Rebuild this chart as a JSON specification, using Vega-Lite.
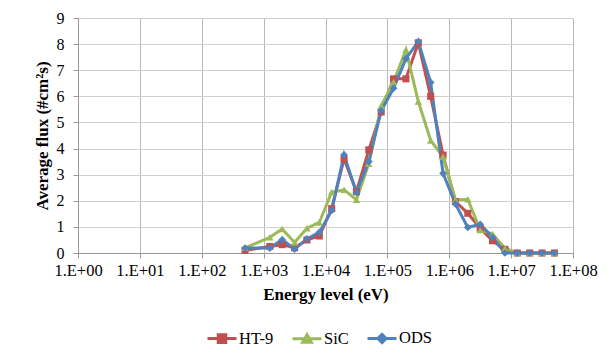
{
  "$schema": "https://vega.github.io/schema/vega-lite/v6.json",
  "width": 495,
  "height": 235,
  "autosize": {"type": "none"},
  "padding": {"left": 78, "top": 18, "right": 41, "bottom": 106},
  "background": "white",
  "config": {
    "view": {"stroke": null},
    "font": "Liberation Serif",
    "axis": {"labelFont": "Liberation Serif", "titleFont": "Liberation Serif", "labelColor": "#000", "titleColor": "#000"},
    "legend": {"labelFont": "Liberation Serif", "labelColor": "#000"}
  },
  "data": {
    "values": [
      {"E": 501, "s": "HT-9", "f": 0.1},
      {"E": 1259, "s": "HT-9", "f": 0.25},
      {"E": 1995, "s": "HT-9", "f": 0.32},
      {"E": 3162, "s": "HT-9", "f": 0.2},
      {"E": 5012, "s": "HT-9", "f": 0.5},
      {"E": 7943, "s": "HT-9", "f": 0.65},
      {"E": 12589, "s": "HT-9", "f": 1.7},
      {"E": 19953, "s": "HT-9", "f": 3.6},
      {"E": 31623, "s": "HT-9", "f": 2.35},
      {"E": 50119, "s": "HT-9", "f": 3.95},
      {"E": 79433, "s": "HT-9", "f": 5.4},
      {"E": 125893, "s": "HT-9", "f": 6.67},
      {"E": 199526, "s": "HT-9", "f": 6.67},
      {"E": 316228, "s": "HT-9", "f": 8.05},
      {"E": 501187, "s": "HT-9", "f": 6.0},
      {"E": 794328, "s": "HT-9", "f": 3.75},
      {"E": 1258925, "s": "HT-9", "f": 1.97},
      {"E": 1995262, "s": "HT-9", "f": 1.52},
      {"E": 3162278, "s": "HT-9", "f": 0.95},
      {"E": 5011872, "s": "HT-9", "f": 0.47},
      {"E": 7943282, "s": "HT-9", "f": 0.14},
      {"E": 12589254, "s": "HT-9", "f": 0},
      {"E": 19952623, "s": "HT-9", "f": 0},
      {"E": 31622777, "s": "HT-9", "f": 0},
      {"E": 50118723, "s": "HT-9", "f": 0},
      {"E": 501, "s": "SiC", "f": 0.2},
      {"E": 1259, "s": "SiC", "f": 0.6},
      {"E": 1995, "s": "SiC", "f": 0.92},
      {"E": 3162, "s": "SiC", "f": 0.4},
      {"E": 5012, "s": "SiC", "f": 0.95},
      {"E": 7943, "s": "SiC", "f": 1.17},
      {"E": 12589, "s": "SiC", "f": 2.33},
      {"E": 19953, "s": "SiC", "f": 2.42},
      {"E": 31623, "s": "SiC", "f": 2.04},
      {"E": 50119, "s": "SiC", "f": 3.42},
      {"E": 79433, "s": "SiC", "f": 5.64},
      {"E": 125893, "s": "SiC", "f": 6.55},
      {"E": 199526, "s": "SiC", "f": 7.78},
      {"E": 316228, "s": "SiC", "f": 5.8},
      {"E": 501187, "s": "SiC", "f": 4.31},
      {"E": 794328, "s": "SiC", "f": 3.69},
      {"E": 1258925, "s": "SiC", "f": 2.03},
      {"E": 1995262, "s": "SiC", "f": 2.06},
      {"E": 3162278, "s": "SiC", "f": 0.88},
      {"E": 5011872, "s": "SiC", "f": 0.73},
      {"E": 7943282, "s": "SiC", "f": 0.18},
      {"E": 12589254, "s": "SiC", "f": 0},
      {"E": 19952623, "s": "SiC", "f": 0},
      {"E": 31622777, "s": "SiC", "f": 0},
      {"E": 50118723, "s": "SiC", "f": 0},
      {"E": 501, "s": "ODS", "f": 0.19},
      {"E": 1259, "s": "ODS", "f": 0.19},
      {"E": 1995, "s": "ODS", "f": 0.51},
      {"E": 3162, "s": "ODS", "f": 0.15},
      {"E": 5012, "s": "ODS", "f": 0.54},
      {"E": 7943, "s": "ODS", "f": 0.79},
      {"E": 12589, "s": "ODS", "f": 1.63},
      {"E": 19953, "s": "ODS", "f": 3.76},
      {"E": 31623, "s": "ODS", "f": 2.32},
      {"E": 50119, "s": "ODS", "f": 3.5},
      {"E": 79433, "s": "ODS", "f": 5.45},
      {"E": 125893, "s": "ODS", "f": 6.31},
      {"E": 199526, "s": "ODS", "f": 7.44},
      {"E": 316228, "s": "ODS", "f": 8.1},
      {"E": 501187, "s": "ODS", "f": 6.53},
      {"E": 794328, "s": "ODS", "f": 3.05},
      {"E": 1258925, "s": "ODS", "f": 1.88},
      {"E": 1995262, "s": "ODS", "f": 0.98},
      {"E": 3162278, "s": "ODS", "f": 1.1},
      {"E": 5011872, "s": "ODS", "f": 0.6},
      {"E": 7943282, "s": "ODS", "f": 0.0},
      {"E": 12589254, "s": "ODS", "f": 0},
      {"E": 19952623, "s": "ODS", "f": 0},
      {"E": 31622777, "s": "ODS", "f": 0},
      {"E": 50118723, "s": "ODS", "f": 0}
    ]
  },
  "encoding": {
    "x": {
      "field": "E", "type": "quantitative",
      "scale": {"type": "log", "domain": [1, 100000000], "nice": false},
      "axis": {
        "title": "Energy level (eV)",
        "values": [1, 10, 100, 1000, 10000, 100000, 1000000, 10000000, 100000000],
        "labelExpr": "'1.E+0' + round(log(datum.value)/LN10)",
        "labelFontSize": 16.5, "labelPadding": 4, "labelFlush": false,
        "titleFontSize": 17, "titleFontWeight": "bold", "titlePadding": 8,
        "grid": true, "gridColor": "#b8b8b8", "gridWidth": 1,
        "domainColor": "#999", "tickColor": "#999", "tickSize": 5
      }
    },
    "y": {
      "field": "f", "type": "quantitative",
      "scale": {"domain": [0, 9], "nice": false},
      "axis": {
        "title": "Average flux (#cm²s)",
        "values": [0, 1, 2, 3, 4, 5, 6, 7, 8, 9],
        "labelFontSize": 16, "labelPadding": 9,
        "titleFontSize": 17, "titleFontWeight": "bold", "titlePadding": 5,
        "grid": true, "gridColor": "#d0d0d0", "gridWidth": 1,
        "domainColor": "#999", "tickColor": "#999", "tickSize": 5
      }
    },
    "color": {
      "field": "s", "type": "nominal",
      "scale": {"domain": ["HT-9", "SiC", "ODS"], "range": ["#C0504D", "#9BBB59", "#4F81BD"]},
      "legend": {
        "title": null, "orient": "none", "direction": "horizontal",
        "legendX": 128, "legendY": 304,
        "symbolSize": 841, "labelFontSize": 16.5, "labelOffset": 1, "columnPadding": 12,
        "encode": {
          "symbols": {
            "update": {
              "shape": {"signal": "datum.value === 'HT-9' ? 'M-1,0H1M-0.26,-0.26H0.26V0.26H-0.26Z' : datum.value === 'SiC' ? 'M-1,0H1M0,-0.28L0.3,0.23H-0.3Z' : 'M-1,0H1M0,-0.28L0.28,0L0,0.28L-0.28,0Z'"},
              "fill": {"scale": "color", "field": "value"},
              "stroke": {"scale": "color", "field": "value"},
              "strokeWidth": {"value": 3},
              "opacity": {"value": 1}
            }
          }
        }
      }
    }
  },
  "layer": [
    {
      "mark": {"type": "line", "strokeWidth": 3}
    },
    {
      "transform": [{"filter": "datum.s === 'HT-9'"}],
      "mark": {"type": "point", "filled": true, "opacity": 1, "shape": "square", "size": 50}
    },
    {
      "transform": [{"filter": "datum.s === 'SiC'"}],
      "mark": {"type": "point", "filled": true, "opacity": 1, "shape": "triangle-up", "size": 55}
    },
    {
      "transform": [{"filter": "datum.s === 'ODS'"}],
      "mark": {"type": "point", "filled": true, "opacity": 1, "shape": "diamond", "size": 60}
    }
  ]
}
